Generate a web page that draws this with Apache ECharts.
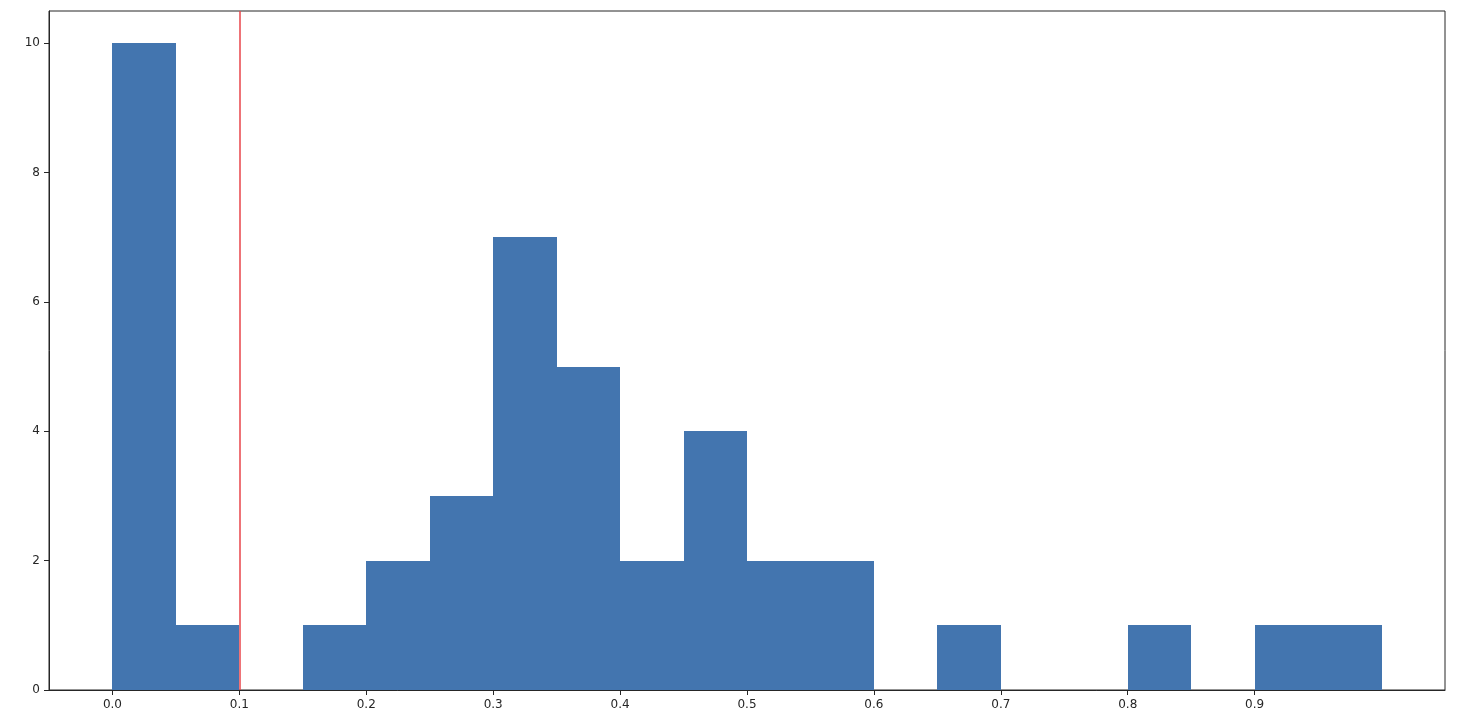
<!DOCTYPE html>
<html>
<head>
<meta charset="utf-8">
<script src="https://cdn.jsdelivr.net/npm/echarts@6/dist/echarts.min.js"></script>
<style>
  html, body { margin: 0; padding: 0; background: #fff; }
  #chart { width: 1460px; height: 721px; }
</style>
</head>
<body>
<div id="chart"></div>
<script>
// histogram bins (width 0.05) and counts
var binStarts = [0.00, 0.05, 0.10, 0.15, 0.20, 0.25, 0.30, 0.35, 0.40, 0.45,
                 0.50, 0.55, 0.60, 0.65, 0.70, 0.75, 0.80, 0.85, 0.90, 0.95];
var binWidth = 0.05;
var counts = [10, 1, 0, 1, 2, 3, 7, 5, 2, 4,
              2, 2, 0, 1, 0, 0, 1, 0, 1, 1];
var xTicks = [0.0, 0.1, 0.2, 0.3, 0.4, 0.5, 0.6, 0.7, 0.8, 0.9];
var yTicks = [0, 2, 4, 6, 8, 10];
var threshold = 0.1;

var barData = [];
for (var i = 0; i < binStarts.length; i++) {
	barData.push([binStarts[i], binStarts[i] + binWidth, counts[i]]);
}

var chart = echarts.init(document.getElementById('chart'));
var labelStyle = {
	color: '#262626',
	fontFamily: 'DejaVu Sans',
	fontSize: 12
};

chart.setOption({
	animation: false,
	grid: {
		left: 49,
		top: 11,
		right: 15,
		bottom: 31,
		show: true,
		borderColor: '#262626',
		borderWidth: 1,
		backgroundColor: '#fff'
	},
	xAxis: {
		type: 'value',
		min: -0.05,
		max: 1.05,
		splitLine: { show: false },
		axisLine: { show: true, onZero: false, lineStyle: { color: '#262626' } },
		axisTick: {
			show: true,
			length: 5,
			inside: false,
			customValues: xTicks,
			lineStyle: { color: '#262626' }
		},
		axisLabel: Object.assign({
			margin: 9,
			customValues: xTicks,
			formatter: function (v) { return v.toFixed(1); }
		}, labelStyle)
	},
	yAxis: {
		type: 'value',
		min: 0,
		max: 10.5,
		splitLine: { show: false },
		axisLine: { show: true, onZero: false, lineStyle: { color: '#262626' } },
		axisTick: {
			show: true,
			length: 5,
			inside: false,
			customValues: yTicks,
			lineStyle: { color: '#262626' }
		},
		axisLabel: Object.assign({
			margin: 9,
			customValues: yTicks
		}, labelStyle)
	},
	series: [
		{
			type: 'custom',
			name: 'hist',
			data: barData,
			encode: { x: [0, 1], y: 2 },
			renderItem: function (params, api) {
				var h = api.value(2);
				if (!h) return null;
				var p0 = api.coord([api.value(0), 0]);
				var p1 = api.coord([api.value(1), h]);
				var x0 = Math.round(p0[0]);
				var x1 = Math.round(p1[0]);
				var yTop = Math.round(p1[1]);
				return {
					type: 'rect',
					shape: {
						x: x0,
						y: yTop,
						width: x1 - x0,
						height: p0[1] - yTop
					},
					style: { fill: '#4375af' }
				};
			},
			markLine: {
				silent: true,
				symbol: 'none',
				label: { show: false },
				lineStyle: { color: '#e8454a', width: 1.5, type: 'solid' },
				data: [{ xAxis: threshold }]
			}
		}
	]
});
</script>
</body>
</html>
